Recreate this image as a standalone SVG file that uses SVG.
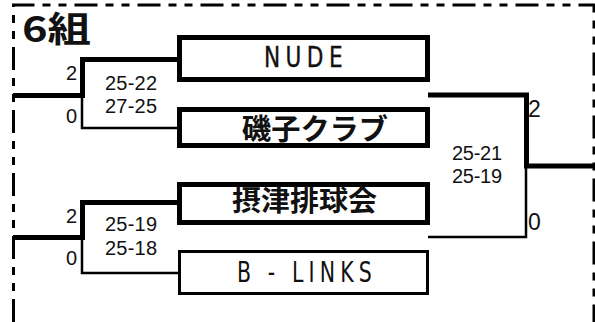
<svg xmlns="http://www.w3.org/2000/svg" width="595" height="322" viewBox="0 0 595 322">
<style>
.frame{fill:none;stroke:#000;stroke-width:3;stroke-dasharray:23 8 8 8 8 8}
.thick{fill:none;stroke:#000;stroke-width:5;stroke-linejoin:miter;stroke-linecap:butt}
.thin{fill:none;stroke:#000;stroke-width:2.5;stroke-linejoin:miter}
.box{fill:#fff;stroke:#000;stroke-width:5}
.boxthin{fill:#fff;stroke:#000;stroke-width:3}
.score{font-family:"Liberation Sans",Arial,sans-serif;font-size:20px;fill:#111}
.win{font-family:"Liberation Sans",Arial,sans-serif;font-size:20px;fill:#111}
.winr{font-family:"Liberation Sans",Arial,sans-serif;font-size:23px;fill:#111}
.lat{font-family:"DejaVu Sans","Liberation Sans",sans-serif;font-size:28px;fill:#111;letter-spacing:7px;stroke:#111;stroke-width:0.4}
.jp{font-family:"Noto Sans CJK JP",sans-serif;font-weight:bold;fill:#111}
</style>
<path class="frame" d="M13.5,322 V5 H594 V322"/>
<g id="title"><text class="jp" x="22" y="42" font-size="35" textLength="69" lengthAdjust="spacingAndGlyphs">6組</text></g>
<g id="connectors">
<path class="thick" d="M13,95.5 H82.5 V59.5 H180"/>
<path class="thin" d="M82,95.5 V128 H180"/>
<path class="thick" d="M13,237.5 H82.5 V202.5 H180"/>
<path class="thin" d="M82,237.5 V273 H180"/>
<path class="thick" d="M428,95 H526.5 V166 H595"/>
<path class="thin" d="M526,166 V237 H428"/>
</g>
<g id="team-nude"><rect class="box" x="179.5" y="37.5" width="248" height="42"/><text class="lat" x="264" y="67" textLength="84" lengthAdjust="spacingAndGlyphs">NUDE</text></g>
<g id="team-isogo"><rect class="box" x="179.5" y="109.5" width="248" height="36"/><text class="jp" x="242" y="140" font-size="29" textLength="146" lengthAdjust="spacingAndGlyphs">磯子クラブ</text></g>
<g id="team-settsu"><rect class="box" x="179.5" y="184.5" width="248" height="38"/><text class="jp" x="232" y="211" font-size="28" textLength="145" lengthAdjust="spacingAndGlyphs">摂津排球会</text></g>
<g id="team-blinks"><rect class="boxthin" x="179.5" y="251.5" width="248" height="42"/><text class="lat" x="237" y="282" textLength="140" lengthAdjust="spacingAndGlyphs" style="stroke-width:0">B - LINKS</text></g>
<g id="match1">
<text class="win" x="77" y="80" text-anchor="end">2</text>
<text class="win" x="77" y="123" text-anchor="end">0</text>
<text class="score" x="105" y="89.5" textLength="52" lengthAdjust="spacing">25-22</text>
<text class="score" x="105" y="113" textLength="52" lengthAdjust="spacing">27-25</text>
</g>
<g id="match2">
<text class="win" x="77" y="223" text-anchor="end">2</text>
<text class="win" x="77" y="265" text-anchor="end">0</text>
<text class="score" x="105" y="231" textLength="52" lengthAdjust="spacing">25-19</text>
<text class="score" x="105" y="255" textLength="52" lengthAdjust="spacing">25-18</text>
</g>
<g id="final">
<text class="winr" x="528" y="117">2</text>
<text class="winr" x="528" y="230">0</text>
<text class="score" x="452" y="160" textLength="50" lengthAdjust="spacing">25-21</text>
<text class="score" x="452" y="183" textLength="50" lengthAdjust="spacing">25-19</text>
</g>
</svg>
